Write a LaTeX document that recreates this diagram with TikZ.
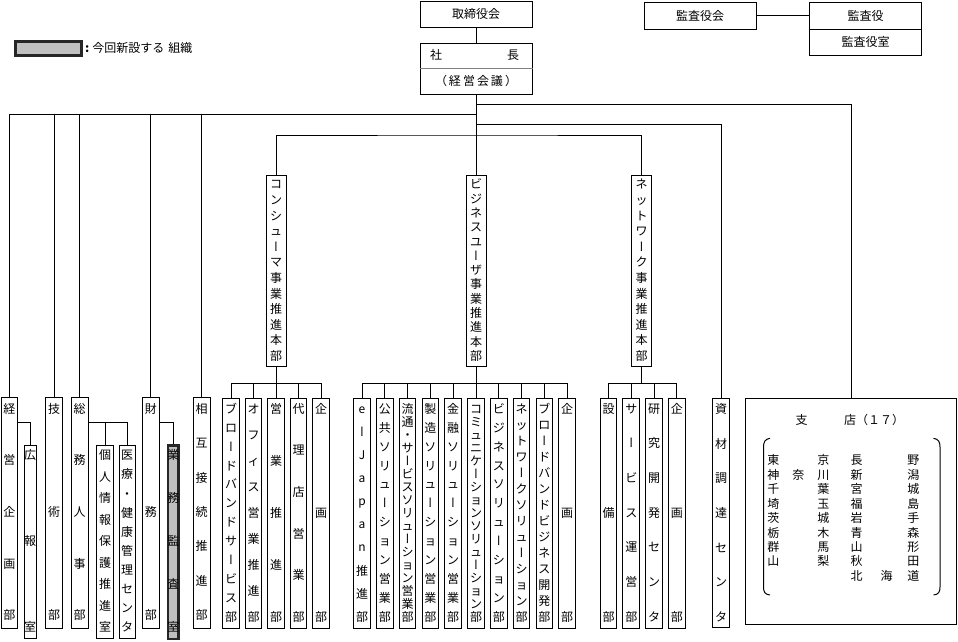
\documentclass[tikz,border=0pt]{standalone}
\usepackage{fontspec}
\setmainfont{Noto Sans CJK JP}
\newfontfamily\vfont{Noto Sans CJK JP}[RawFeature=+vert]
\definecolor{silver}{HTML}{C0C0C0}
\newcommand\vb{{\vfont ー}}
\tikzset{
  ln/.style={line width=1pt},
  bx/.style={draw, line width=1pt, fill=white, inner sep=0pt},
  nbx/.style={draw=black!85, line width=2.6pt, fill=silver, inner sep=0pt},
  ch/.style={inner sep=0pt, text height=0.88em, text depth=0.12em},
}
\newcommand\VBOX[6]{% style, name, cx, top, bottom, width
  \node[#1, minimum width=#6pt, minimum height={(#5)-(#4)}] (#2) at (#3,{((#4)+(#5))/2}) {};
}
\newcommand\VCH[5]{% name, x, yfirst, ylast, list
  \gdef\vn{0}%
  \foreach \cc in {#5} {\xdef\vn{\the\numexpr\vn+1\relax}}%
  \foreach \cc [count=\i] in {#5} {\node[ch] (#1-\i) at ({#2},{(#3)+(\i-1)*((#4)-(#3))/max(\vn-1,1)}) {\cc};}%
}
\begin{document}
\begin{tikzpicture}[x=1pt,y=-1pt,font=\fontsize{12}{14}\selectfont]
\useasboundingbox (0,0) rectangle (958,641);
\fill[white] (0,0) rectangle (958,641);

% ---- top ----
\node[bx, minimum width=112pt, minimum height=26pt] (tori) at (476,14) {取締役会};
\node[bx, minimum width=112pt, minimum height=51pt] (shacho) at (476,68.8) {};
\draw[gray, line width=1pt] (shacho.west |- 0,68.3) -- (shacho.east |- 0,68.3);
\node[ch] (sha) at (436,56) {社};
\node[ch] (cho) at (513,56) {長};
\node[ch] (kaigi) at (476,81.5) {（\hspace{2pt}経\hspace{2pt}営\hspace{2pt}会\hspace{2pt}議\hspace{2pt}）};
\draw[ln] (tori.south) -- (shacho.north);

\node[bx, minimum width=112pt, minimum height=27pt] (kkai) at (700.2,15.8) {監査役会};
\node[bx, minimum width=112.4pt, minimum height=27pt] (ky) at (865.5,15.8) {監査役};
\node[bx, minimum width=112.4pt, minimum height=25.7pt] (kys) at (865.5,42.15) {監査役室};
\draw[ln] (kkai.east) -- (ky.west);

% ---- legend ----
\node[nbx, minimum width=66pt, minimum height=14.5pt] (leg) at (48.4,48.5) {};
\node[ch, anchor=west] (legt) at (85,48.5) {\textbf{:}\hspace{3pt}今回新設する\hspace{4pt}組織};

% ---- left group ----
\VBOX{bx}{kei}{9.25}{397.3}{628.3}{16.5}
\VCH{kei}{9.25}{409.5}{616}{経,営,企,画,部}
\VBOX{bx}{gi}{54}{397.3}{628.3}{16.6}
\VCH{gi}{54}{409.5}{616}{技,術,部}
\VBOX{bx}{so}{79.7}{397.3}{628.3}{17.3}
\VCH{so}{79.7}{409.5}{616}{総,務,人,事,部}
\VBOX{bx}{zai}{150.8}{397.3}{628.3}{17}
\VCH{zai}{150.8}{409.5}{616}{財,務,部}
\VBOX{bx}{sogo}{201.7}{397.3}{628.3}{16.7}
\VCH{sogo}{201.7}{409.5}{616}{相,互,接,続,推,進,部}

\VBOX{bx}{ko}{30}{445}{638.5}{12}
\VCH{ko}{30}{456}{628}{広,報,室}
\VBOX{bx}{kojin}{105}{445}{638.5}{16.6}
\VCH{kojin}{105}{456}{628}{個,人,情,報,保,護,推,進,室}
\VBOX{bx}{iryo}{127}{445}{638.5}{16}
\VCH{iryo}{127}{456}{628}{医,療,・,健,康,管,理,セ,ン,タ}
\VBOX{nbx}{gyomu}{173.3}{445.5}{638.8}{10.9}
\VCH{gyomu}{173.3}{456}{628}{業,務,監,査,室}

\draw[ln] (kei.east |- 0,422.3) -| (ko.north);
\draw[ln] (so.east |- 0,422.3) -| (iryo.north);
\draw[ln] (kojin.north) -- (kojin.north |- 0,422.3);
\draw[ln] (zai.east |- 0,422.3) -| (gyomu.north);

% ---- divisions ----
\VBOX{bx}{con}{276}{175.3}{366.7}{20}
\VCH{con}{276}{185}{356.7}{コ,ン,シ,ュ,\vb,マ,事,業,推,進,本,部}
\VBOX{bx}{biz}{476}{175.3}{366.7}{20}
\VCH{biz}{476}{185}{356.7}{ビ,ジ,ネ,ス,ユ,\vb,ザ,事,業,推,進,本,部}
\VBOX{bx}{net}{641.7}{175.3}{366.7}{20}
\VCH{net}{641.7}{185}{356.7}{ネ,ッ,ト,ワ,\vb,ク,事,業,推,進,本,部}

% consumer
\VBOX{bx}{c1}{231}{398.3}{628.3}{16.7}
\VCH{c1}{231}{409.5}{617.5}{ブ,ロ,\vb,ド,バ,ン,ド,サ,\vb,ビ,ス,部}
\VBOX{bx}{c2}{253.5}{398.3}{628.3}{16.7}
\VCH{c2}{253.5}{409.5}{617.5}{オ,フ,ィ,ス,営,業,推,進,部}
\VBOX{bx}{c3}{276}{398.3}{628.3}{16.7}
\VCH{c3}{276}{409.5}{617.5}{営,業,推,進,部}
\VBOX{bx}{c4}{298.5}{398.3}{628.3}{16.7}
\VCH{c4}{298.5}{409.5}{617.5}{代,理,店,営,業,部}
\VBOX{bx}{c5}{321}{398.3}{628.3}{16.7}
\VCH{c5}{321}{409.5}{617.5}{企,画,部}

% business
\VBOX{bx}{b1}{362}{398.3}{628.3}{16.7}
\VCH{b1}{362}{409.5}{617.5}{e,\vb,J,a,p,a,n,推,進,部}
\VBOX{bx}{b2}{384.8}{398.3}{628.3}{16.7}
\VCH{b2}{384.8}{409.5}{617.5}{公,共,ソ,リ,ュ,\vb,シ,ョ,ン,営,業,部}
\VBOX{bx}{b3}{407.6}{398.3}{628.3}{16.7}
\VCH{b3}{407.6}{409.5}{617.5}{流,通,・,サ,\vb,ビ,ス,ソ,リ,ュ,\vb,シ,ョ,ン,営,業,部}
\VBOX{bx}{b4}{430.4}{398.3}{628.3}{16.7}
\VCH{b4}{430.4}{409.5}{617.5}{製,造,ソ,リ,ュ,\vb,シ,ョ,ン,営,業,部}
\VBOX{bx}{b5}{453.2}{398.3}{628.3}{16.7}
\VCH{b5}{453.2}{409.5}{617.5}{金,融,ソ,リ,ュ,\vb,シ,ョ,ン,営,業,部}
\VBOX{bx}{b6}{476}{398.3}{628.3}{16.7}
\VCH{b6}{476}{409.5}{617.5}{コ,ミ,ュ,ニ,ケ,\vb,シ,ョ,ン,ソ,リ,ュ,\vb,シ,ョ,ン,部}
\VBOX{bx}{b7}{498.8}{398.3}{628.3}{16.7}
\VCH{b7}{498.8}{409.5}{617.5}{ビ,ジ,ネ,ス,ソ,リ,ュ,\vb,シ,ョ,ン,部}
\VBOX{bx}{b8}{521.6}{398.3}{628.3}{16.7}
\VCH{b8}{521.6}{409.5}{617.5}{ネ,ッ,ト,ワ,\vb,ク,ソ,リ,ュ,\vb,シ,ョ,ン,部}
\VBOX{bx}{b9}{544.4}{398.3}{628.3}{16.7}
\VCH{b9}{544.4}{409.5}{617.5}{ブ,ロ,\vb,ド,バ,ン,ド,ビ,ジ,ネ,ス,開,発,部}
\VBOX{bx}{b10}{567.2}{398.3}{628.3}{16.7}
\VCH{b10}{567.2}{409.5}{617.5}{企,画,部}

% network
\VBOX{bx}{n1}{608.5}{398.3}{628.3}{16.7}
\VCH{n1}{608.5}{409.5}{617.5}{設,備,部}
\VBOX{bx}{n2}{631.3}{398.3}{628.3}{16.7}
\VCH{n2}{631.3}{409.5}{617.5}{サ,\vb,ビ,ス,運,営,部}
\VBOX{bx}{n3}{654.1}{398.3}{628.3}{16.7}
\VCH{n3}{654.1}{409.5}{617.5}{研,究,開,発,セ,ン,タ}
\VBOX{bx}{n4}{676.9}{398.3}{628.3}{16.7}
\VCH{n4}{676.9}{409.5}{617.5}{企,画,部}

% shizai
\VBOX{bx}{shizai}{721}{398.3}{627}{16.6}
\VCH{shizai}{721}{410}{617.5}{資,材,調,達,セ,ン,タ}

% shiten
\VBOX{bx}{shiten}{851}{398.3}{624.3}{210.6}
\node[ch] (shi) at (801.7,420.7) {支};
\node[ch, anchor=west] (ten) at (844,420.7) {店（１７）};
\draw[ln] (770,438.3) .. controls (765,439) and (763.5,442) .. (763.5,447) -- (763.5,587) .. controls (763.5,592) and (765,594.5) .. (770,595);
\draw[ln] (933.5,438.3) .. controls (938.5,439) and (940,442) .. (940,447) -- (940,587) .. controls (940,592) and (938.5,594.5) .. (933.5,595);
\VCH{p1}{773.3}{461}{562.15}{東,神,千,埼,茨,栃,群,山}
\node[ch] (p2) at (798.3,475.45) {奈};
\VCH{p3}{823.3}{461}{562.15}{京,川,葉,玉,城,木,馬,梨}
\VCH{p4}{856.7}{461}{576.6}{長,新,宮,福,岩,青,山,秋,北}
\node[ch] (p5) at (886.7,576.6) {海};
\VCH{p6}{913.3}{461}{576.6}{野,潟,城,島,手,森,形,田,道}

% ---- trunk connectors ----
\coordinate (t1) at (476,104.3);
\coordinate (t2) at (476,114.3);
\coordinate (t3) at (476,124.3);
\coordinate (t4) at (476,135);
\draw[ln] (shacho.south) -- (biz.north);
\draw[ln] (t1) -| (shiten.north);
\draw[ln] (t3) -| (shizai.north);
\draw[ln] (t2) -| (kei.north);
\foreach \n in {gi,so,zai,sogo} \draw[ln] (\n.north) -- (\n.north |- t2);
\draw[ln] (con.north) |- (t4) -| (net.north);

% ---- sub branches ----
\draw[ln] (con.south) -- (con.south |- 0,383);
\draw[ln] (c1.north) -- (c1.north |- 0,383) -- (c5.north |- 0,383) -- (c5.north);
\foreach \k in {2,3,4} \draw[ln] (c\k.north) -- (c\k.north |- 0,383);

\draw[ln] (biz.south) -- (biz.south |- 0,383);
\draw[ln] (b1.north) -- (b1.north |- 0,383) -- (b10.north |- 0,383) -- (b10.north);
\foreach \k in {2,...,9} \draw[ln] (b\k.north) -- (b\k.north |- 0,383);

\draw[ln] (net.south) -- (net.south |- 0,383);
\draw[ln] (n1.north) -- (n1.north |- 0,383) -- (n4.north |- 0,383) -- (n4.north);
\foreach \k in {2,3} \draw[ln] (n\k.north) -- (n\k.north |- 0,383);
\end{tikzpicture}
\end{document}
